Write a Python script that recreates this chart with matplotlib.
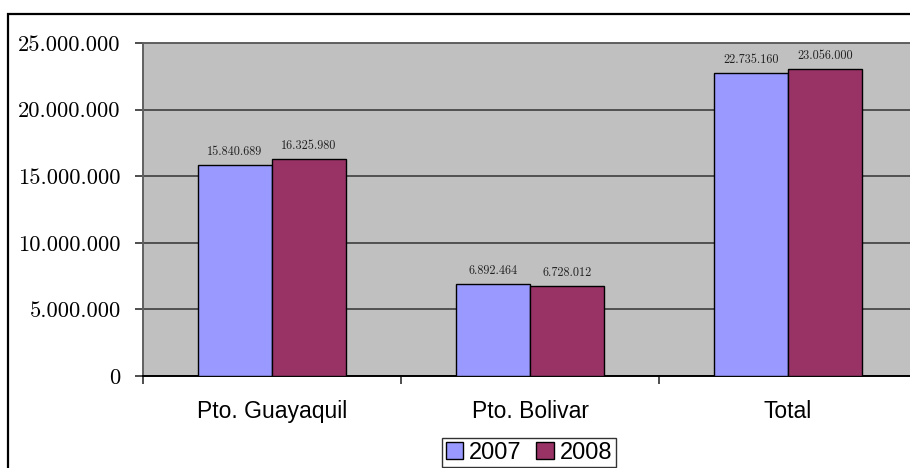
import numpy as np
import matplotlib.pyplot as plt
from matplotlib.patches import Rectangle

categories = ["Pto. Guayaquil", "Pto. Bolivar", "Total"]
years = ["2007", "2008"]
values_2007 = [15840689, 6892464, 22735160]
values_2008 = [16325980, 6728012, 23056000]
ytick_vals = [0, 5000000, 10000000, 15000000, 20000000, 25000000]


def fmt_es(v):
    return f"{v:,}".replace(",", ".")


fig = plt.figure(figsize=(9.10, 4.68), dpi=100)
fig.patch.set_facecolor("white")

# outer chart frame (clipped by the image at right / bottom)
fig.patches.append(Rectangle((8 / 910, -0.05), 1.1, 1 - 14 / 468 + 0.05,
                             transform=fig.transFigure, fill=False,
                             edgecolor="black", linewidth=1.6))

ax = fig.add_axes([143 / 910, 92 / 468, 774 / 910, 333 / 468])
ax.set_facecolor("#C0C0C0")

x = np.arange(len(categories))
w = 0.287
b1 = ax.bar(x - w / 2, values_2007, w, color="#9999FF", edgecolor="black",
            linewidth=1.0, label=years[0], zorder=3)
b2 = ax.bar(x + w / 2, values_2008, w, color="#993366", edgecolor="black",
            linewidth=1.0, label=years[1], zorder=3)

for bars in (b1, b2):
    for r in bars:
        ax.annotate(fmt_es(int(r.get_height())),
                    (r.get_x() + r.get_width() / 2, r.get_height()),
                    xytext=(0, 5), textcoords="offset points",
                    ha="center", va="bottom", fontsize=8.8,
                    family="cmr10", color="#202020")

ax.set_xlim(-0.5, len(categories) - 0.5)
ax.set_ylim(0, 25000000)
ax.set_yticks(ytick_vals)
ax.set_yticklabels([fmt_es(v) for v in ytick_vals], family="cmr10",
                   fontsize=16.2)
ax.yaxis.grid(True, color="#505050", linewidth=1.4, zorder=1)
ax.set_axisbelow(True)

ax.set_xticks(x)
ax.set_xticklabels(categories, family="Liberation Sans", fontsize=16.5)
ax.set_xticks(np.arange(len(categories) + 1) - 0.5, minor=True)
ax.tick_params(axis="x", which="major", length=0, pad=17)
ax.tick_params(axis="x", which="minor", length=6, width=1.3, color="#404040")
ax.tick_params(axis="y", length=6, width=1.3, color="#404040", pad=10)

for side in ("left", "top", "right"):
    ax.spines[side].set_color("#606060")
    ax.spines[side].set_linewidth(1.4)
ax.spines["bottom"].set_color("black")
ax.spines["bottom"].set_linewidth(1.4)

leg = fig.legend(loc="upper center", bbox_to_anchor=(529 / 910, 1 - 438 / 468),
                 ncol=2, frameon=True, fancybox=False, edgecolor="black",
                 prop={"family": "Liberation Sans", "size": 17},
                 handlelength=0.75, handleheight=0.75, handletextpad=0.25,
                 columnspacing=0.6, borderpad=0.15, borderaxespad=0)
leg.get_frame().set_linewidth(1.0)

fig.savefig("out.png", dpi=100)
